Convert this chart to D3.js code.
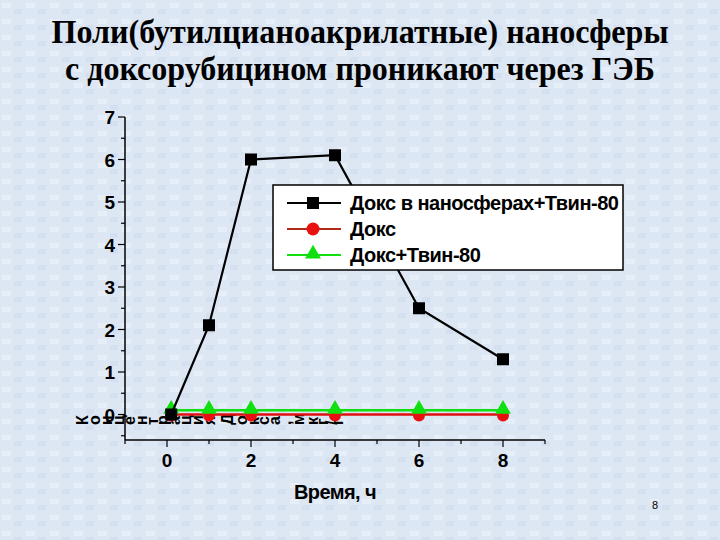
<!DOCTYPE html>
<html>
<head>
<meta charset="utf-8">
<script src="https://cdn.jsdelivr.net/npm/d3@7"></script>
<style>
  body { margin: 0; background: #dce6f3; }
  svg { display: block; }
</style>
</head>
<body>
<div id="chart"></div>
<script>
// data
var titleLines = ["Поли(бутилцианоакрилатные) наносферы", "с доксорубицином проникают через ГЭБ"];
var hours = [0.1, 1, 2, 4, 6, 8];
var doxNano = [0, 2.1, 6.0, 6.1, 2.5, 1.3];
var dox = [0, 0, 0, 0, 0, 0];
var doxTween = [0.1, 0.1, 0.1, 0.1, 0.1, 0.1];
var seriesNames = ["Докс в наносферах+Твин-80", "Докс", "Докс+Твин-80"];
var xTicks = [0, 2, 4, 6, 8];
var yTicks = [0, 1, 2, 3, 4, 5, 6, 7];
var xLabel = "Время, ч";
var yLabel = "Концентрация Докса, мкг/г";

var W = 720, H = 540;
var svg = d3.select("#chart").append("svg").attr("width", W).attr("height", H);

// faint blotchy background like the slide texture
var defs = svg.append("defs");
var pat = defs.append("pattern").attr("id", "tex").attr("width", 24).attr("height", 16)
  .attr("patternUnits", "userSpaceOnUse");
pat.append("rect").attr("width", 24).attr("height", 16).attr("fill", "#dde7f4");
pat.append("rect").attr("x", 2).attr("y", 3).attr("width", 9).attr("height", 5).attr("fill", "#e6eef8");
pat.append("rect").attr("x", 14).attr("y", 9).attr("width", 8).attr("height", 5).attr("fill", "#d4e0f0");
svg.append("rect").attr("width", W).attr("height", H).attr("fill", "url(#tex)");

// title (narrow serif in the original, so squeeze it to the measured widths)
var titleWidths = [617, 590];
svg.selectAll(".title").data(titleLines).enter().append("text")
  .attr("x", 360).attr("y", function(d, i) { return 43 + i * 37; })
  .attr("text-anchor", "middle")
  .attr("textLength", function(d, i) { return titleWidths[i]; })
  .attr("lengthAdjust", "spacingAndGlyphs")
  .style("font-family", "'Liberation Serif', 'Times New Roman', serif")
  .style("font-weight", "bold").style("font-size", "34px")
  .text(function(d) { return d; });

var x = d3.scaleLinear().domain([-1, 9]).range([125, 545]);
var y = d3.scaleLinear().domain([-0.6, 7]).range([440, 117]);

var font = "'Liberation Sans', Arial, sans-serif";

// y axis
var yAxis = svg.append("g").attr("transform", "translate(" + x(-1) + ",0)");
yAxis.append("line").attr("y1", y(-0.6)).attr("y2", y(7)).attr("stroke", "#000").attr("stroke-width", 1.5);
yAxis.selectAll(".ymin").data(d3.range(-0.5, 7.1, 0.5)).enter().append("line")
  .attr("x1", function(d) { return d % 1 === 0 ? -7 : -4; }).attr("x2", 0)
  .attr("y1", function(d) { return y(d); }).attr("y2", function(d) { return y(d); })
  .attr("stroke", "#000").attr("stroke-width", 1.2);
yAxis.selectAll(".ylab").data(yTicks).enter().append("text")
  .attr("x", -10).attr("y", function(d) { return y(d) + 7; })
  .attr("text-anchor", "end")
  .style("font-family", font).style("font-weight", "bold").style("font-size", "19px")
  .text(function(d) { return d; });

// x axis
var xAxis = svg.append("g").attr("transform", "translate(0," + y(-0.6) + ")");
xAxis.append("line").attr("x1", x(-1)).attr("x2", x(9)).attr("stroke", "#000").attr("stroke-width", 1.5);
xAxis.selectAll(".xmin").data(d3.range(-1, 10, 1)).enter().append("line")
  .attr("x1", function(d) { return x(d); }).attr("x2", function(d) { return x(d); })
  .attr("y1", 0).attr("y2", function(d) { return d % 2 === 0 ? 7 : 4; })
  .attr("stroke", "#000").attr("stroke-width", 1.2);
xAxis.selectAll(".xlab").data(xTicks).enter().append("text")
  .attr("x", function(d) { return x(d); }).attr("y", 27)
  .attr("text-anchor", "middle")
  .style("font-family", font).style("font-weight", "bold").style("font-size", "19px")
  .text(function(d) { return d; });

svg.append("text").attr("x", x(4)).attr("y", 499).attr("text-anchor", "middle")
  .style("font-family", font).style("font-weight", "bold").style("font-size", "20px")
  .style("letter-spacing", "-0.6px")
  .text(xLabel);

// broken y-axis title: glyphs turned on their side, laid along the zero line
svg.append("text").attr("x", 88).attr("y", 425)
  .attr("rotate", -90)
  .attr("textLength", 262).attr("lengthAdjust", "spacing")
  .style("font-family", font).style("font-weight", "bold").style("font-size", "16px")
  .text(yLabel);

var line = d3.line().x(function(d) { return x(d[0]); }).y(function(d) { return y(d[1]); });

function pts(vals) { return hours.map(function(h, i) { return [h, vals[i]]; }); }

// red series
svg.append("path").datum(pts(dox)).attr("d", line).attr("fill", "none")
  .attr("stroke", "#e01010").attr("stroke-width", 2.5);
svg.selectAll(".rc").data(pts(dox)).enter().append("circle")
  .attr("cx", function(d) { return x(d[0]); }).attr("cy", function(d) { return y(d[1]) + 1; })
  .attr("r", 6).attr("fill", "#e81010");

// green series
svg.append("path").datum(pts(doxTween)).attr("d", line).attr("fill", "none")
  .attr("stroke", "#10e010").attr("stroke-width", 2.5);
var tri = d3.symbol().type(d3.symbolTriangle).size(110);
svg.selectAll(".gt").data(pts(doxTween)).enter().append("path")
  .attr("d", tri)
  .attr("transform", function(d) { return "translate(" + x(d[0]) + "," + (y(d[1]) - 1) + ")"; })
  .attr("fill", "#10e010");

// black series
svg.append("path").datum(pts(doxNano)).attr("d", line).attr("fill", "none")
  .attr("stroke", "#000").attr("stroke-width", 2.2);
svg.selectAll(".bs").data(pts(doxNano)).enter().append("rect")
  .attr("x", function(d) { return x(d[0]) - 6; }).attr("y", function(d) { return y(d[1]) - 6; })
  .attr("width", 12).attr("height", 12).attr("fill", "#000");

// legend
var lg = svg.append("g").attr("transform", "translate(273,185)");
lg.append("rect").attr("width", 350).attr("height", 85).attr("fill", "#fff")
  .attr("stroke", "#000").attr("stroke-width", 1.5);
var legColors = ["#000", "#b02818", "#10e010"];
var legMarkers = ["square", "circle", "triangle"];
var rows = lg.selectAll(".row").data(seriesNames).enter().append("g")
  .attr("transform", function(d, i) { return "translate(0," + (18 + i * 26) + ")"; });
rows.append("line").attr("x1", 14).attr("x2", 68).attr("stroke", function(d, i) { return legColors[i]; })
  .attr("stroke-width", 2);
rows.each(function(d, i) {
  var g = d3.select(this);
  if (legMarkers[i] === "square") {
    g.append("rect").attr("x", 34).attr("y", -6).attr("width", 12).attr("height", 12).attr("fill", "#000");
  } else if (legMarkers[i] === "circle") {
    g.append("circle").attr("cx", 40).attr("r", 6.5).attr("fill", "#e81010");
  } else {
    g.append("path").attr("d", tri).attr("transform", "translate(40,-1)").attr("fill", "#10e010");
  }
});
rows.append("text").attr("x", 77).attr("y", 7)
  .style("font-family", font).style("font-weight", "bold").style("font-size", "20px")
  .style("letter-spacing", "-0.5px")
  .text(function(d) { return d; });

// slide number
svg.append("text").attr("x", 655).attr("y", 509).attr("text-anchor", "middle")
  .style("font-family", font).style("font-size", "11px").text("8");
</script>
</body>
</html>
